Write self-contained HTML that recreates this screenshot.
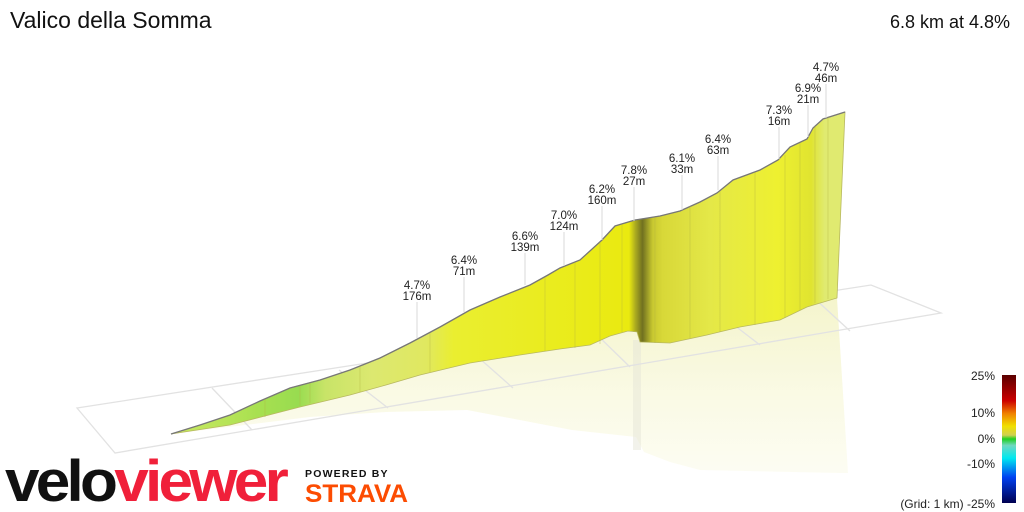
<!DOCTYPE html>
<html><head><meta charset="utf-8"><style>
body{margin:0;width:1024px;height:512px;background:#fff;overflow:hidden;font-family:"Liberation Sans",sans-serif}
</style></head><body>
<svg width="1024" height="512" xmlns="http://www.w3.org/2000/svg" style="position:absolute;left:0;top:0">
<defs>
<linearGradient id="front" x1="170" y1="0" x2="845" y2="0" gradientUnits="userSpaceOnUse">
<stop offset="0" stop-color="#c8e860"/>
<stop offset="0.08" stop-color="#b8e458"/>
<stop offset="0.13" stop-color="#a8e050"/>
<stop offset="0.19" stop-color="#98dc50"/>
<stop offset="0.23" stop-color="#c8e468"/>
<stop offset="0.3" stop-color="#dce870"/>
<stop offset="0.38" stop-color="#e0e860"/>
<stop offset="0.42" stop-color="#eaee30"/>
<stop offset="0.68" stop-color="#eaea10"/>
<stop offset="0.69" stop-color="#a8a820"/>
<stop offset="0.70" stop-color="#707020"/>
<stop offset="0.715" stop-color="#c8c830"/>
<stop offset="0.73" stop-color="#d8d838"/>
<stop offset="0.80" stop-color="#e4e848"/>
<stop offset="0.90" stop-color="#eef030"/>
<stop offset="0.95" stop-color="#e0e430"/>
<stop offset="0.97" stop-color="#e0ea70"/>
<stop offset="1" stop-color="#e0ea70"/>
</linearGradient>
<linearGradient id="refl" x1="0" y1="300" x2="0" y2="475" gradientUnits="userSpaceOnUse">
<stop offset="0" stop-color="#f2f2c0"/>
<stop offset="0.5" stop-color="#f8f8dc"/>
<stop offset="1" stop-color="#fcfcf0"/>
</linearGradient>
</defs>
<!-- reflection -->
<path d="M171,434 L230,425 300,407 350,395 386,385 420,375 470,363 520,355 560,349 590,345 610,336 628,331 637,333 640,342 670,343 707,335 740,327 780,320 807,307 837,298 L848,473 L839,473 700,470 670,462 644,452 636,437 572,430 467,410 386,412 310,417 Z" fill="url(#refl)" opacity="0.8"/>
<rect x="633" y="340" width="8" height="110" fill="#e6e6d8" opacity="0.5"/>
<!-- grid -->
<g stroke="#e2e2e2" stroke-width="1.3" fill="none">
<polygon points="77,408 871,285 941,313 115,453"/>
<line x1="212" y1="388" x2="252" y2="430"/>
<line x1="339" y1="370" x2="388" y2="408"/>
<line x1="470" y1="350" x2="513" y2="388"/>
<line x1="592" y1="330" x2="630" y2="367"/>
<line x1="717" y1="312" x2="760" y2="345"/>
<line x1="813" y1="297" x2="850" y2="331"/>
</g>
<!-- front face -->
<path d="M171,434 L200,425 230,415 260,401 290,388 320,380 350,370 380,358 410,343 440,327 470,310 500,297 530,285 548,275 560,268 580,260 602,240 615,226 635,220 660,216 680,211 700,202 717,193 733,180 760,170 778,160 790,147 807,139 813,128 823,119 845,112 L837,298 807,307 780,320 740,327 707,335 670,343 640,342 637,332 628,331 610,336 590,345 560,349 520,355 470,363 420,375 386,385 350,395 300,407 230,425 Z" fill="url(#front)" stroke="#b8b860" stroke-width="0.8"/>
<path d="M171,434 L200,425 230,415 260,401 290,388 320,380 350,370 380,358 410,343 440,327 470,310 500,297 530,285 548,275 560,268 580,260 602,240 615,226 635,220 660,216 680,211 700,202 717,193 733,180 760,170 778,160 790,147 807,139 813,128 823,119 845,112" fill="none" stroke="#777" stroke-width="1.3"/>
<g stroke="#b0b040" stroke-width="0.6" opacity="0.6">
<line x1="575" y1="262" x2="575" y2="348"/><line x1="600" y1="242" x2="600" y2="344"/><line x1="622" y1="224" x2="622" y2="332"/><line x1="655" y1="217" x2="655" y2="343"/><line x1="690" y1="206" x2="690" y2="338"/><line x1="720" y1="191" x2="720" y2="332"/><line x1="755" y1="172" x2="755" y2="325"/><line x1="785" y1="155" x2="785" y2="318"/><line x1="800" y1="143" x2="800" y2="310"/><line x1="815" y1="126" x2="815" y2="303"/><line x1="828" y1="117" x2="828" y2="299"/><line x1="545" y1="277" x2="545" y2="351"/><line x1="430" y1="333" x2="430" y2="372"/><line x1="360" y1="366" x2="360" y2="392"/><line x1="310" y1="383" x2="310" y2="403"/><line x1="300" y1="386" x2="300" y2="406"/><line x1="265" y1="399" x2="265" y2="417"/>
</g>
<!-- annotations -->
<g stroke="#d8d8d8" stroke-width="1">
<line x1="417" y1="302" x2="417" y2="338"/><line x1="464" y1="277" x2="464" y2="312"/><line x1="525" y1="253" x2="525" y2="285"/><line x1="564" y1="232" x2="564" y2="266"/><line x1="602" y1="206" x2="602" y2="240"/><line x1="634" y1="187" x2="634" y2="221"/><line x1="682" y1="175" x2="682" y2="210"/><line x1="718" y1="156" x2="718" y2="190"/><line x1="779" y1="127" x2="779" y2="159"/><line x1="808" y1="105" x2="808" y2="137"/><line x1="826" y1="84" x2="826" y2="118"/>
</g>
<g font-size="11.5" fill="#222" text-anchor="middle">
<text x="417" y="289">4.7%</text><text x="417" y="300">176m</text>
<text x="464" y="264">6.4%</text><text x="464" y="275">71m</text>
<text x="525" y="240">6.6%</text><text x="525" y="251">139m</text>
<text x="564" y="219">7.0%</text><text x="564" y="230">124m</text>
<text x="602" y="193">6.2%</text><text x="602" y="204">160m</text>
<text x="634" y="174">7.8%</text><text x="634" y="185">27m</text>
<text x="682" y="162">6.1%</text><text x="682" y="173">33m</text>
<text x="718" y="143">6.4%</text><text x="718" y="154">63m</text>
<text x="779" y="114">7.3%</text><text x="779" y="125">16m</text>
<text x="808" y="92">6.9%</text><text x="808" y="103">21m</text>
<text x="826" y="71">4.7%</text><text x="826" y="82">46m</text>
</g>
<!-- colorbar -->
<defs><linearGradient id="cb" x1="0" y1="0" x2="0" y2="1">
<stop offset="0" stop-color="#5a0000"/><stop offset="0.2" stop-color="#cc0000"/><stop offset="0.3" stop-color="#f08000"/><stop offset="0.4" stop-color="#f0e000"/><stop offset="0.47" stop-color="#d0d050"/><stop offset="0.5" stop-color="#20d020"/><stop offset="0.55" stop-color="#70d8c0"/><stop offset="0.65" stop-color="#00e8f0"/><stop offset="0.8" stop-color="#0040f0"/><stop offset="1" stop-color="#000050"/>
</linearGradient></defs>
<rect x="1002" y="375" width="14" height="128" fill="url(#cb)"/>
<g font-size="12" fill="#222" text-anchor="end">
<text x="995" y="380">25%</text><text x="995" y="417">10%</text><text x="995" y="443">0%</text><text x="995" y="468">-10%</text><text x="995" y="508">(Grid: 1 km) -25%</text>
</g>
<text x="10" y="28" font-size="23" fill="#111">Valico della Somma</text>
<text x="1010" y="28" font-size="18" fill="#111" text-anchor="end">6.8 km at 4.8%</text>
<!-- logo -->
<text x="5" y="501" font-size="58" font-weight="bold" letter-spacing="-3.5" fill="#111" textLength="280" lengthAdjust="spacingAndGlyphs">velo<tspan fill="#f0203a">viewer</tspan></text>
<text x="305" y="477" font-size="10.5" font-weight="bold" fill="#111" letter-spacing="1.2">POWERED BY</text>
<text x="305" y="502" font-size="25" font-weight="bold" fill="#fc4c02" textLength="103" lengthAdjust="spacingAndGlyphs">STRAVA</text>
</svg>
</body></html>
